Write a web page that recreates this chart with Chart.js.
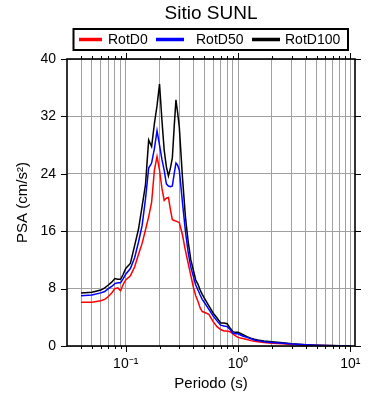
<!DOCTYPE html>
<html><head><meta charset="utf-8">
<script src="https://cdn.jsdelivr.net/npm/chart.js@4"></script>
<style>html,body{margin:0;padding:0;background:#fff}#wrap{width:390px;height:400px;position:relative}</style>
</head><body><div id="wrap"><canvas id="c" width="390" height="400"></canvas></div>
<script>
const chartTitle = 'Sitio SUNL';
const periods = [0.04,0.05,0.06,0.065,0.07,0.075,0.08,0.085,0.09,0.095,
  0.1,0.11,0.12,0.13,0.14,0.15,0.16,0.17,0.18,0.19,
  0.2,0.21,0.22,0.23,0.24,0.25,0.26,0.27,0.28,0.29,
  0.3,0.32,0.34,0.36,0.38,0.4,0.42,0.44,0.46,0.48,
  0.5,0.55,0.6,0.65,0.7,0.75,0.8,0.85,0.9,0.95,
  1.0,1.1,1.2,1.3,1.4,1.5,1.7,2.0,2.5,3.0,
  4.0,5.0,6.0,7.0,8.0,10.0];
const rotD0 = [6.1,6.1,6.3,6.5,6.9,7.4,8.0,8.1,7.7,8.6,
  9.2,9.8,11.0,12.8,14.3,16.2,18.0,20.0,24.5,26.4,
  24.5,22.0,20.3,20.6,20.7,19.0,17.6,17.5,17.4,17.3,
  17.2,15.5,13.3,11.5,9.8,8.2,7.0,6.2,5.3,4.8,
  4.7,4.4,3.4,2.7,2.3,2.1,2.1,2.0,1.7,1.4,
  1.2,1.05,0.9,0.75,0.65,0.6,0.5,0.4,0.3,0.2,
  0.12,0.08,0.06,0.05,0.04,0.03];
const rotD50 = [7.0,7.1,7.4,7.6,8.0,8.3,8.7,8.8,8.8,9.4,
  10.0,10.8,12.3,14.5,16.8,20.5,24.8,25.5,27.5,30.0,
  28.0,26.0,24.5,22.6,22.3,22.2,22.3,24.0,25.5,25.2,
  24.5,20.0,16.0,13.0,11.0,9.7,8.5,7.8,7.1,6.5,
  6.1,5.1,4.2,3.5,2.9,2.8,2.7,2.3,1.8,1.7,
  1.7,1.4,1.2,1.0,0.85,0.75,0.6,0.5,0.38,0.27,
  0.16,0.1,0.07,0.05,0.04,0.03];
const rotD100 = [7.4,7.5,7.8,8.1,8.5,8.9,9.4,9.3,9.3,10.0,
  10.8,11.5,14.0,16.3,19.5,22.5,28.7,27.8,31.0,33.5,
  36.5,31.5,27.3,25.0,23.7,24.8,26.2,30.5,34.3,32.5,
  30.5,23.5,18.0,14.5,12.0,10.6,9.2,8.6,7.8,7.2,
  6.7,5.6,4.6,3.9,3.2,3.2,3.1,2.5,2.0,1.9,
  1.9,1.6,1.3,1.1,0.95,0.85,0.7,0.6,0.45,0.3,
  0.18,0.12,0.08,0.06,0.05,0.04];
const seriesNames = ['RotD0','RotD50','RotD100'];
const seriesColors = ['#ff0000','#0000ff','#000000'];
const yTicks = [0,8,16,24,32,40];
const xGridTicks = [0.04,0.05,0.06,0.07,0.08,0.09,0.1,0.2,0.3,0.4,0.5,0.6,0.7,0.8,0.9,1,2,3,4,5,6,7,8,9,10];
const xMajorTicks = [0.1,1,10];
const xMajorLabels = ['10\u207B\u00B9','10\u2070','10\u00B9'];
const xTitle = 'Periodo (s)';
const yTitle = 'PSA (cm/s\u00B2)';

const FONT = '"Liberation Sans", Arial, Helvetica, sans-serif';
const seriesValues = [rotD0, rotD50, rotD100];
const drawOrder = [1, 0, 2];

const frame = {
  id: 'frame',
  afterDraw(chart) {
    const ctx = chart.ctx, a = chart.chartArea;
    const xs = chart.scales.x, ys = chart.scales.y;
    ctx.save();
    ctx.strokeStyle = '#000';
    ctx.lineWidth = 1;
    ctx.beginPath();
    yTicks.forEach(v => {
      const y = Math.round(ys.getPixelForValue(v)) + 0.5;
      ctx.moveTo(a.left - 6, y); ctx.lineTo(a.left, y);
      ctx.moveTo(a.right, y); ctx.lineTo(a.right + 6, y);
    });
    xGridTicks.forEach(v => {
      const x = Math.round(xs.getPixelForValue(v)) + 0.5;
      const len = xMajorTicks.includes(v) ? 6 : 3;
      ctx.moveTo(x, a.bottom); ctx.lineTo(x, a.bottom + len);
      ctx.moveTo(x, a.top); ctx.lineTo(x, a.top - len);
    });
    ctx.stroke();
    ctx.lineWidth = 1.6;
    ctx.strokeRect(a.left, a.top, a.right - a.left, a.bottom - a.top);
    ctx.fillStyle = '#000';
    ctx.font = '19px ' + FONT;
    ctx.textAlign = 'center';
    ctx.textBaseline = 'middle';
    ctx.fillText(chartTitle, (a.left + a.right) / 2, 14);
    ctx.lineWidth = 2;
    ctx.strokeRect(73.5, 29, 274.5, 21);
    const sw = [[79,102,108],[156,184,196],[252,280,285]];
    ctx.font = '14px ' + FONT;
    ctx.textAlign = 'left';
    seriesNames.forEach((n, i) => {
      ctx.strokeStyle = seriesColors[i];
      ctx.lineWidth = 3.5;
      ctx.beginPath(); ctx.moveTo(sw[i][0], 39.5); ctx.lineTo(sw[i][1], 39.5); ctx.stroke();
      ctx.fillText(n, sw[i][2], 40);
    });
    ctx.restore();
  }
};

new Chart(document.getElementById('c'), {
  type: 'line',
  data: {
    datasets: seriesNames.map((n, i) => ({
      label: n,
      data: periods.map((p, k) => ({x: p, y: seriesValues[i][k]})),
      borderColor: seriesColors[i],
      backgroundColor: seriesColors[i],
      borderWidth: 1.5,
      pointRadius: 0,
      tension: 0,
      order: drawOrder[i]
    }))
  },
  options: {
    responsive: false,
    animation: false,
    devicePixelRatio: 1,
    layout: {padding: {left: 0, right: 35, top: 59, bottom: 0}},
    plugins: {legend: {display: false}, title: {display: false}, tooltip: {enabled: false}},
    scales: {
      x: {
        type: 'logarithmic', min: 0.03, max: 11,
        afterBuildTicks: s => { s.ticks = xGridTicks.map(v => ({value: v})); },
        afterFit: s => { s.height = 54; },
        ticks: {
          autoSkip: false, maxRotation: 0, color: '#000', padding: 10,
          font: {family: FONT, size: 14},
          callback: v => { const i = xMajorTicks.indexOf(v); return i >= 0 ? xMajorLabels[i] : ''; }
        },
        grid: {color: '#a0a0a0', lineWidth: 1, drawTicks: false},
        border: {display: false},
        title: {display: true, text: xTitle, color: '#000', font: {family: FONT, size: 15}, padding: {top: 4, bottom: 7}}
      },
      y: {
        type: 'linear', min: 0, max: 40,
        afterBuildTicks: s => { s.ticks = yTicks.map(v => ({value: v})); },
        afterFit: s => { s.width = 67; },
        ticks: {color: '#000', padding: 11, font: {family: FONT, size: 14}},
        grid: {color: '#a0a0a0', lineWidth: 1, drawTicks: false},
        border: {display: false},
        title: {display: true, text: yTitle, color: '#000', font: {family: FONT, size: 15}, padding: {top: 14, bottom: 4}}
      }
    }
  },
  plugins: [frame]
});
</script>
</body></html>
